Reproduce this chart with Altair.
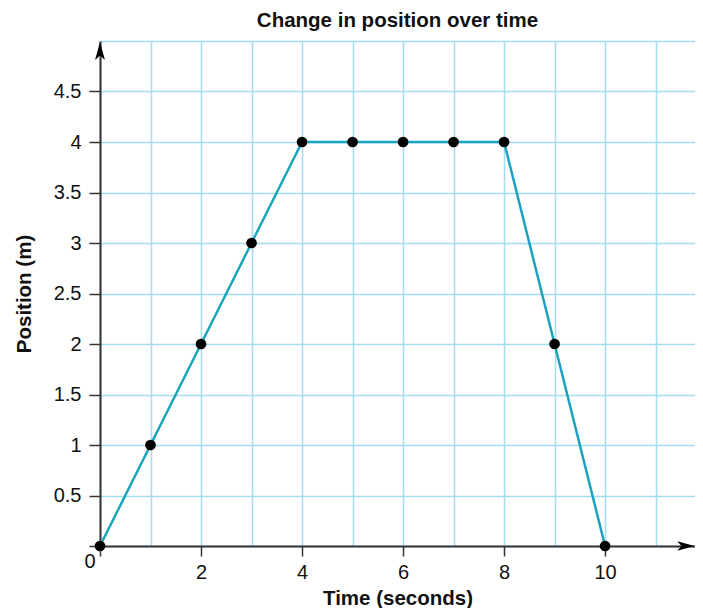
import altair as alt
import pandas as pd

time_s = [0, 1, 2, 3, 4, 5, 6, 7, 8, 9, 10]
position_m = [0, 1, 2, 3, 4, 4, 4, 4, 4, 2, 0]

x_grid_values = [0, 1, 2, 3, 4, 5, 6, 7, 8, 9, 10, 11]
y_grid_values = [0, 0.5, 1, 1.5, 2, 2.5, 3, 3.5, 4, 4.5, 5]

df = pd.DataFrame({"t": time_s, "p": position_m})

FONT = "Liberation Sans"
GRID = "#a4dcf2"
AXIS = "#333333"
LABEL_SIZE = 20
TITLE_SIZE = 20.5

xscale = alt.Scale(domain=[0, 11.78], nice=False, zero=False)
yscale = alt.Scale(domain=[0, 5], nice=False, zero=False)

xaxis = alt.Axis(
    values=x_grid_values,
    title="Time (seconds)",
    grid=True, gridColor=GRID, gridWidth=1.5,
    domainColor=AXIS, domainWidth=2,
    tickColor=AXIS, tickWidth=1.5, tickSize=10,
    tickOpacity={"condition": {"test": "datum.value % 2 == 0 && datum.value <= 10", "value": 1}, "value": 0},
    labelExpr="(datum.value % 2 == 0 && datum.value > 0 && datum.value <= 10) ? format(datum.value, '~g') : ''",
    labelFont=FONT, labelFontSize=LABEL_SIZE, labelColor="#111", labelPadding=6,
    titleFont=FONT, titleFontSize=TITLE_SIZE, titleFontWeight="bold", titleColor="#111",
    titleBaseline="alphabetic", titleY=58,
)
yaxis = alt.Axis(
    values=y_grid_values,
    title="Position (m)",
    grid=True, gridColor=GRID, gridWidth=1.5,
    domainColor=AXIS, domainWidth=2,
    tickColor=AXIS, tickWidth=1.5, tickSize=11,
    tickOpacity={"condition": {"test": "datum.value < 5", "value": 1}, "value": 0},
    labelExpr="(datum.value > 0 && datum.value < 5) ? format(datum.value, '~g') : ''",
    labelFont=FONT, labelFontSize=LABEL_SIZE, labelColor="#111", labelPadding=8,
    titleFont=FONT, titleFontSize=TITLE_SIZE, titleFontWeight="bold", titleColor="#111",
    titlePadding=19,
)

base = alt.Chart(df)

line = base.mark_line(color="#1aa3bf", strokeWidth=2.5).encode(
    x=alt.X("t:Q", scale=xscale, axis=xaxis),
    y=alt.Y("p:Q", scale=yscale, axis=yaxis),
)
points = base.mark_point(filled=True, color="black", opacity=1, size=115).encode(
    x=alt.X("t:Q", scale=xscale),
    y=alt.Y("p:Q", scale=yscale),
)

arrow_up = alt.Chart(pd.DataFrame({"x": [0], "y": [4.9]})).mark_point(
    shape="M0,-1L0.55,1L0,0.5L-0.55,1Z", filled=True, color="black", opacity=1, size=324
).encode(x=alt.X("x:Q", scale=xscale), y=alt.Y("y:Q", scale=yscale))

arrow_right = alt.Chart(pd.DataFrame({"x": [11.6], "y": [0]})).mark_point(
    shape="M1,0L-1,0.55L-0.5,0L-1,-0.55Z", filled=True, color="black", opacity=1, size=300
).encode(x=alt.X("x:Q", scale=xscale), y=alt.Y("y:Q", scale=yscale))

zero = alt.Chart(pd.DataFrame({"x": [0], "y": [0], "label": ["0"]})).mark_text(
    font=FONT, fontSize=LABEL_SIZE, color="#111", dx=-10, dy=16
).encode(x=alt.X("x:Q", scale=xscale), y=alt.Y("y:Q", scale=yscale), text="label:N")

chart = alt.layer(line, points, arrow_up, arrow_right, zero).properties(
    width=595,
    height=505,
    title=alt.TitleParams(
        "Change in position over time", font=FONT, fontSize=TITLE_SIZE, fontWeight="bold",
        color="#111", anchor="middle", offset=10,
    ),
    autosize=alt.AutoSizeParams(type="none"),
    padding={"left": 92, "top": 33, "right": 0, "bottom": 62},
).configure_view(stroke=None)

chart.save("out.html", embed_options={"renderer": "svg", "actions": False})
